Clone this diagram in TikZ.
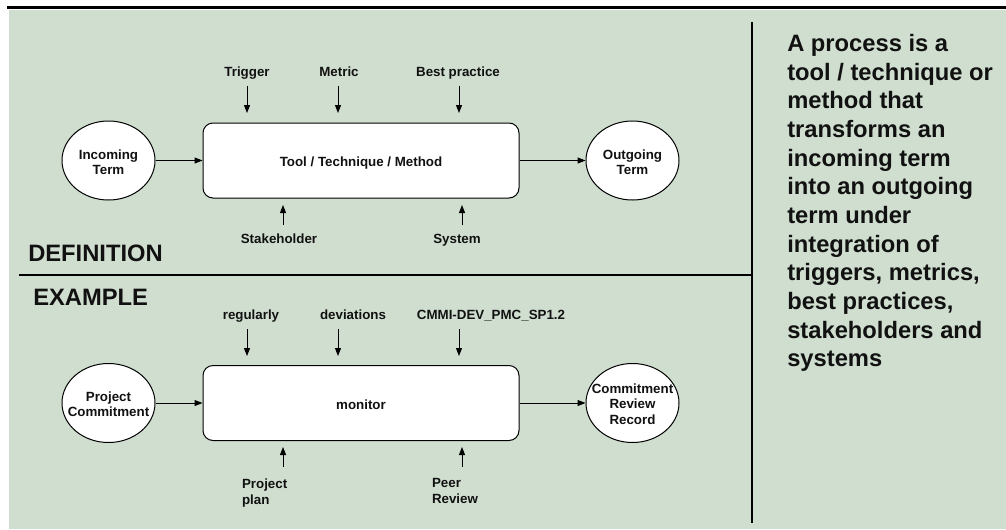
\documentclass[tikz,border=0pt]{standalone}
\usepackage{fontspec}
\setmainfont{Liberation Sans}
\usetikzlibrary{arrows.meta,shapes.geometric}
\definecolor{panel}{RGB}{208,222,208}
\definecolor{ink}{RGB}{17,17,17}
\tikzset{
  txt/.style={font=\bfseries\fontsize{10}{12}\selectfont, text=ink, inner sep=0pt},
  lbltop/.style={txt, text height=7.5pt, text depth=2pt, outer sep=4.8pt},
  lblbot/.style={txt, text height=7.5pt, text depth=2pt, outer sep=6.5pt},
  lbltwo/.style={txt, align=left, anchor=north west, outer sep=8.5pt},
  proc/.style={txt, draw=black, fill=white, line width=0.75pt, rounded corners=7.5pt,
    minimum width=237pt, minimum height=56.25pt, text height=11pt, text depth=2pt},
  term/.style={ellipse, draw=black, fill=white, line width=0.75pt, inner sep=0pt,
    minimum width=69.75pt, minimum height=59.25pt},
  termtxt/.style={txt, align=center, font=\bfseries\fontsize{10}{11.5}\selectfont},
  heading/.style={font=\bfseries\fontsize{17.8}{21}\selectfont, text=ink, inner sep=0pt, anchor=west},
  arr/.style={line width=0.75pt, -{Triangle[length=6pt,width=4.5pt]}},
}
\begin{document}
\begin{tikzpicture}[x=0.75pt,y=-0.75pt]
\useasboundingbox (0,0) rectangle (1006,529);
% panel and frame lines
\fill[panel] (9,10) rectangle (1006,529);
\draw[line width=1.9pt] (7,7.5) -- (1006,7.5);
\draw[line width=1.5pt] (19,275) -- (752,275);
\draw[line width=0.8pt] (752,22) -- (752,523);

% ---------- definition ----------
\node[proc] (tool) at (361,160.5) {Tool / Technique / Method};
\node[term] (inc) at (108.5,160.5) {};
\node[termtxt] (inctxt) at (108.5,162) {Incoming\\Term};
\node[term] (out) at (632.5,160.5) {};
\node[termtxt] (outtxt) at (632.5,162) {Outgoing\\Term};
\draw[arr] (inc) -- (tool);
\draw[arr] (tool) -- (out);

\node[lbltop] (trig) at (247,73.3) {Trigger};
\node[lbltop] (metr) at (339,73.3) {Metric};
\node[lbltop] (best) at (458,73.3) {Best practice};
\coordinate (trigE) at (247,113);
\coordinate (metrE) at (338,113);
\coordinate (bestE) at (459,113);
\draw[arr] (trig.south -| trigE) -- (trigE);
\draw[arr] (metr.south -| metrE) -- (metrE);
\draw[arr] (best.south -| bestE) -- (bestE);

\node[lblbot] (stak) at (279,240.3) {Stakeholder};
\node[lblbot] (syst) at (457,240.3) {System};
\coordinate (stakE) at (283,205);
\coordinate (systE) at (462,205);
\draw[arr] (stak.north -| stakE) -- (stakE);
\draw[arr] (syst.north -| systE) -- (systE);

\node[heading] (defh) at (28,253) {DEFINITION};

% ---------- example ----------
\node[heading] (exh) at (33,297) {EXAMPLE};

\node[proc] (mon) at (361,403) {monitor};
\node[term] (pc) at (108.5,403) {};
\node[termtxt] (pctxt) at (108.5,404.5) {Project\\Commitment};
\node[term] (crr) at (632.5,403) {};
\node[termtxt] (crrtxt) at (632.5,404) {Commitment\\Review\\Record};
\draw[arr] (pc) -- (mon);
\draw[arr] (mon) -- (crr);

\node[lbltop] (regu) at (251,316.3) {regularly};
\node[lbltop] (devi) at (353,316.3) {deviations};
\node[lbltop] (cmmi) at (491,316.3) {CMMI-DEV\_PMC\_SP1.2};
\coordinate (reguE) at (247,356);
\coordinate (deviE) at (338,356);
\coordinate (cmmiE) at (459,356);
\draw[arr] (regu.south -| reguE) -- (reguE);
\draw[arr] (devi.south -| deviE) -- (deviE);
\draw[arr] (cmmi.south -| cmmiE) -- (cmmiE);

% two-line labels: the anchor sits on the outer border, 8.5pt off the text
\node[lbltwo] (plan) at (230.7,467) {Project\\plan};
\node[lbltwo] (peer) at (420.7,467) {Peer\\Review};
\coordinate (planE) at (283,447);
\coordinate (peerE) at (462,447);
\draw[arr] (plan.north -| planE) -- (planE);
\draw[arr] (peer.north -| peerE) -- (peerE);

% ---------- explanation ----------
\node[font=\bfseries\fontsize{17.8}{21.5}\selectfont, text=ink, inner sep=0pt,
  align=left, anchor=north west] (expl) at (787,34)
  {A process is a\\tool / technique or\\method that\\transforms an\\incoming term\\into an outgoing\\term under\\integration of\\triggers, metrics,\\best practices,\\stakeholders and\\systems};
\end{tikzpicture}
\end{document}
